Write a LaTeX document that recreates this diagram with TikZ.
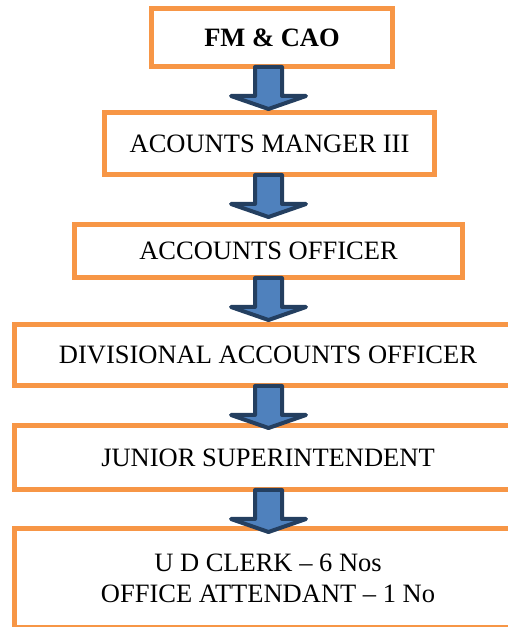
\documentclass[tikz,border=0pt]{standalone}
\usepackage{fontspec}
\setmainfont{Liberation Serif}
\usetikzlibrary{calc}
\definecolor{boxorange}{HTML}{F79646}
\definecolor{arrowblue}{HTML}{4F81BD}
\definecolor{arrownavy}{HTML}{243F60}

\tikzset{
  post/.style={draw=boxorange, line width=5pt, fill=white, inner sep=0pt,
    font=\fontsize{26.5}{31}\selectfont},
  blockarrow/.style={draw=arrownavy, fill=arrowblue, line width=4pt, line join=round}
}
% block arrow hanging below a post
\newcommand{\downfrom}[1]{%
  \draw[blockarrow] ($(#1.south -| axis)+(-13.5,2)$) -- ++(0,-29) -- ++(-24,0)
    -- ($(#1.south -| axis)+(0,-40)$) -- ++(37.5,13) -- ++(-24,0) -- ++(0,29) -- cycle;}

\begin{document}
\begin{tikzpicture}[x=1pt,y=1pt]
    \useasboundingbox (0,0) rectangle (508,627);
    \coordinate (axis) at (268.5,0);

    \node[post, minimum width=241, minimum height=58] (fm) at (272,589.5) {\bfseries FM \& CAO};
    \node[post, minimum width=330, minimum height=62] (acm) at (269.5,483.5) {ACOUNTS MANGER III};
    \node[post, minimum width=388, minimum height=53] (ao) at (268.5,376) {ACCOUNTS OFFICER};
    \node[post, minimum width=507, minimum height=61] (dao) at (268,272) {DIVISIONAL ACCOUNTS OFFICER};
    \node[post, minimum width=507, minimum height=64] (js) at (268,169.5) {JUNIOR SUPERINTENDENT};
    \node[post, minimum width=507, minimum height=99, align=center] (udc) at (268,48.5)
        {U D CLERK -- 6 Nos\\OFFICE ATTENDANT -- 1 No};

%arrows
    \downfrom{fm}
    \downfrom{acm}
    \downfrom{ao}
    \downfrom{dao}
    \downfrom{js}

\end{tikzpicture}
\end{document}
